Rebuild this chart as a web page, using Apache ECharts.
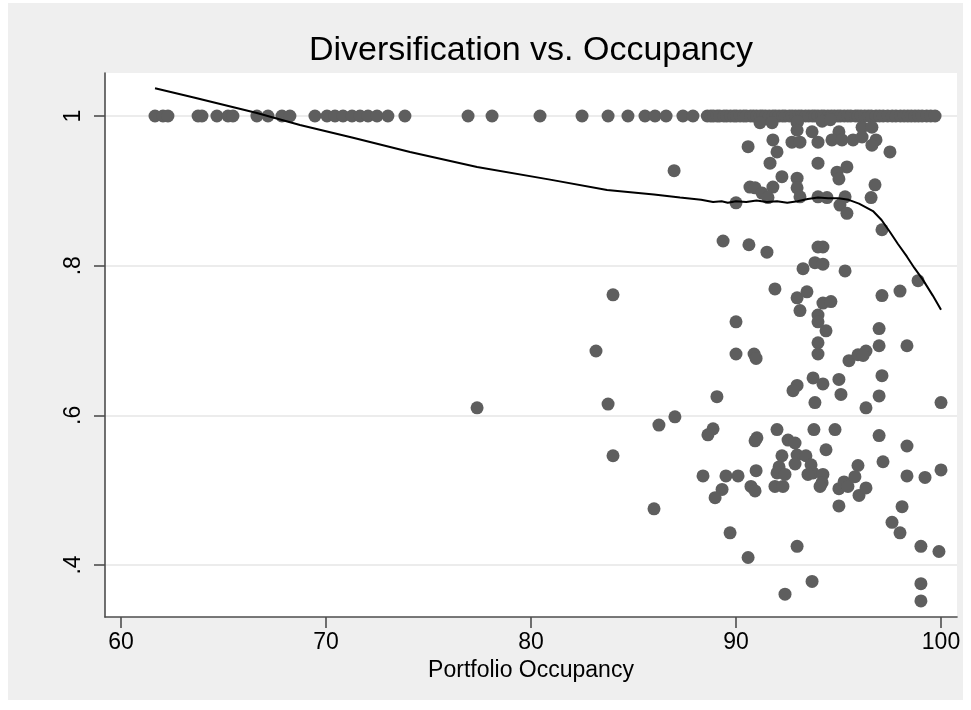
<!DOCTYPE html>
<html>
<head>
<meta charset="utf-8">
<script src="https://cdn.jsdelivr.net/npm/echarts@6/dist/echarts.min.js"></script>
<style>html,body{margin:0;padding:0;background:#fff;}#c{width:971px;height:710px;}</style>
</head>
<body>
<div id="c"></div>
<script>
// ---- data ----
const chartTitle = 'Diversification vs. Occupancy';
const xAxisTitle = 'Portfolio Occupancy';
const xTicks = [60, 70, 80, 90, 100];
const yTicks = [0.4, 0.6, 0.8, 1];
const yTickLabels = ['.4', '.6', '.8', '1'];

// occupancies of portfolios whose diversification equals 1
const fullDiversOccupancy = [
  61.66, 62.05, 62.29, 63.76, 63.95, 64.68, 65.22, 65.46, 66.63, 67.17, 67.85, 68.24,
  69.46, 70.05, 70.44, 70.83, 71.27, 71.66, 72.05, 72.49, 73.02, 73.85, 76.93, 78.10,
  80.44, 82.49, 83.76, 84.73, 85.56, 86.05, 86.59, 87.41, 87.90,
  88.6, 88.77, 88.9, 89.08, 89.2, 89.41, 89.55, 89.73, 89.9, 90.02, 90.2, 90.37, 90.5,
  90.71, 90.85, 91.0, 91.18, 91.3, 91.44, 91.62, 91.8, 91.93, 92.1, 92.27, 92.4, 92.6,
  92.74, 92.9, 93.06, 93.2, 93.39, 93.55, 93.72, 93.85, 94.0, 94.17, 94.3, 94.48, 94.65,
  94.8, 94.97, 95.1, 95.28, 95.45, 95.6, 95.82, 95.95, 96.1, 96.28, 96.45, 96.6, 96.83,
  97.0, 97.18, 97.4, 97.62, 97.8, 98.02, 98.2, 98.38, 98.55, 98.73, 98.9, 99.08, 99.3,
  99.5, 99.71
];

// [occupancy, diversification] for the remaining portfolios
const otherPoints = [
  [91.17,0.991],[91.76,0.991],[92.98,0.991],[93.0,0.993],[94.2,0.993],[94.6,0.995],
  [92.98,0.981],[93.71,0.979],[95.02,0.979],[96.15,0.985],[96.63,0.985],
  [91.80,0.968],[92.73,0.965],[93.12,0.965],[94.00,0.965],[94.68,0.968],[95.17,0.968],
  [95.71,0.968],[96.15,0.972],[96.83,0.968],[96.63,0.961],
  [90.59,0.959],[92.00,0.952],[97.51,0.952],[91.66,0.937],[94.00,0.937],[86.98,0.927],
  [95.41,0.932],[94.93,0.925],[95.02,0.916],[92.24,0.919],[92.98,0.917],[92.98,0.904],
  [96.78,0.908],[90.68,0.905],[90.93,0.904],[91.80,0.905],[91.27,0.897],[91.56,0.891],
  [93.12,0.892],[94.00,0.892],[94.44,0.891],[95.32,0.892],[96.59,0.891],[90.00,0.884],
  [95.07,0.881],[95.41,0.870],[97.12,0.848],[89.37,0.833],[90.63,0.828],[91.51,0.818],
  [94.00,0.825],[94.24,0.825],[93.27,0.796],[93.85,0.804],[94.24,0.802],[95.32,0.793],
  [98.88,0.780],
  [84.00,0.761],[91.90,0.769],[92.98,0.757],[93.46,0.765],[94.24,0.750],[94.63,0.752],
  [93.12,0.740],[94.00,0.734],[94.00,0.725],[94.39,0.713],[97.12,0.760],[98.00,0.766],
  [90.00,0.725],[96.98,0.716],
  [83.17,0.686],[90.00,0.682],[90.88,0.682],[90.98,0.676],[94.00,0.697],[94.00,0.682],
  [95.51,0.673],[95.95,0.681],[96.34,0.686],[96.20,0.680],[96.98,0.693],[98.34,0.693],
  [93.76,0.650],[94.24,0.642],[95.02,0.648],[92.98,0.640],[92.78,0.633],[95.12,0.628],
  [97.12,0.653],[96.98,0.626],
  [83.76,0.615],[89.07,0.625],[93.85,0.617],[96.34,0.610],[100.0,0.617],[77.37,0.610],
  [87.02,0.598],[86.24,0.587],
  [88.88,0.582],[88.63,0.574],[91.02,0.570],[90.93,0.566],[92.00,0.581],[93.80,0.581],
  [94.83,0.581],[92.54,0.567],[92.88,0.563],[96.98,0.573],[98.34,0.559],[94.39,0.554],
  [84.00,0.546],[86.00,0.475],[88.39,0.519],[89.51,0.519],[90.10,0.519],[90.98,0.526],
  [89.32,0.501],[88.98,0.490],[90.73,0.505],[90.93,0.499],[92.24,0.546],[92.98,0.547],
  [93.41,0.546],[92.88,0.535],[92.10,0.531],[92.00,0.523],[92.39,0.521],[91.90,0.505],
  [92.29,0.505],[93.66,0.534],[93.76,0.523],[93.51,0.521],[94.24,0.521],[94.20,0.510],
  [94.10,0.505],[95.02,0.502],[95.27,0.511],[95.46,0.505],[95.95,0.533],[95.80,0.518],
  [96.00,0.493],[96.34,0.503],[95.02,0.479],[97.17,0.538],[98.34,0.519],[99.22,0.517],
  [100.0,0.527],[98.10,0.478],[97.61,0.457],[98.00,0.443],[89.71,0.443],[92.98,0.425],
  [90.59,0.410],[99.02,0.425],[99.90,0.418],[93.71,0.378],[92.39,0.361],[99.02,0.375],
  [99.02,0.352]
];

// lowess smooth (traced)
const lowessX = [61.66, 63.5, 66.63, 68.73, 71.32, 74.10, 77.37, 80.93, 83.71, 86.0, 87.27,
  88.3, 88.88, 89.3, 89.6, 90.0, 90.5, 91.0, 91.5, 92.0, 92.5, 93.0, 93.5, 94.0, 94.5,
  95.0, 95.5, 96.0, 96.68, 97.1, 97.51, 97.9, 98.34, 98.7, 99.12, 99.6, 100.0];
const lowessY = [1.037, 1.025, 1.004, 0.988, 0.971, 0.952, 0.932, 0.915, 0.901, 0.895, 0.891,
  0.888, 0.885, 0.886, 0.884, 0.886, 0.885, 0.887, 0.885, 0.886, 0.884, 0.886, 0.889, 0.891, 0.890,
  0.890, 0.888, 0.883, 0.873, 0.861, 0.845, 0.829, 0.812, 0.797, 0.781, 0.760, 0.741];

// ---- chart ----
const FONT = '"Liberation Sans", Arial, Helvetica, sans-serif';
const scatterData = fullDiversOccupancy.map(x => [x, 1]).concat(otherPoints);
const lineData = lowessX.map((x, i) => [x, lowessY[i]]);
const axisColor = '#4d4d4d';

const chart = echarts.init(document.getElementById('c'), null, {renderer: 'canvas'});
chart.setOption({
  animation: false,
  backgroundColor: '#ffffff',
  graphic: [{
    type: 'rect', z: -10, silent: true,
    shape: {x: 8, y: 3, width: 955, height: 697},
    style: {fill: '#efefef'}
  }],
  title: {
    text: chartTitle,
    left: 531, top: 34, textAlign: 'center', padding: 0,
    textStyle: {fontFamily: FONT, fontSize: 34, fontWeight: 'normal', color: '#000'}
  },
  grid: {
    left: 105, top: 73, width: 852, height: 544,
    show: true, backgroundColor: '#ffffff', borderWidth: 0
  },
  xAxis: {
    type: 'value', min: 59.22, max: 100.78,
    name: xAxisTitle, nameLocation: 'middle', nameGap: 36,
    nameTextStyle: {fontFamily: FONT, fontSize: 23, color: '#000'},
    axisLine: {show: true, onZero: false, lineStyle: {color: axisColor, width: 1.6}},
    axisTick: {show: true, customValues: xTicks, length: 11, lineStyle: {color: axisColor, width: 1.6}},
    axisLabel: {customValues: xTicks, fontFamily: FONT, fontSize: 23, color: '#000', margin: 14},
    splitLine: {show: false}
  },
  yAxis: {
    type: 'value', min: 0.3305, max: 1.0575,
    axisLine: {show: true, onZero: false, lineStyle: {color: axisColor, width: 1.6}},
    axisTick: {show: true, customValues: yTicks, length: 11, lineStyle: {color: axisColor, width: 1.6}},
    axisLabel: {
      customValues: yTicks, rotate: 90, fontFamily: FONT, fontSize: 23, color: '#000', margin: 20,
      formatter: v => {
        for (let i = 0; i < yTicks.length; i++) if (Math.abs(yTicks[i] - v) < 1e-6) return yTickLabels[i];
        return '';
      }
    },
    splitLine: {show: true, lineStyle: {color: '#e6e6e6', width: 1.6}}
  },
  series: [
    {
      type: 'scatter', data: scatterData, symbol: 'circle', symbolSize: 13,
      itemStyle: {color: '#5e5e5e', opacity: 1}, z: 2
    },
    {
      type: 'line', data: lineData, showSymbol: false, symbol: 'none', smooth: false,
      lineStyle: {color: '#000', width: 2}, z: 3
    }
  ]
});
</script>
</body>
</html>
